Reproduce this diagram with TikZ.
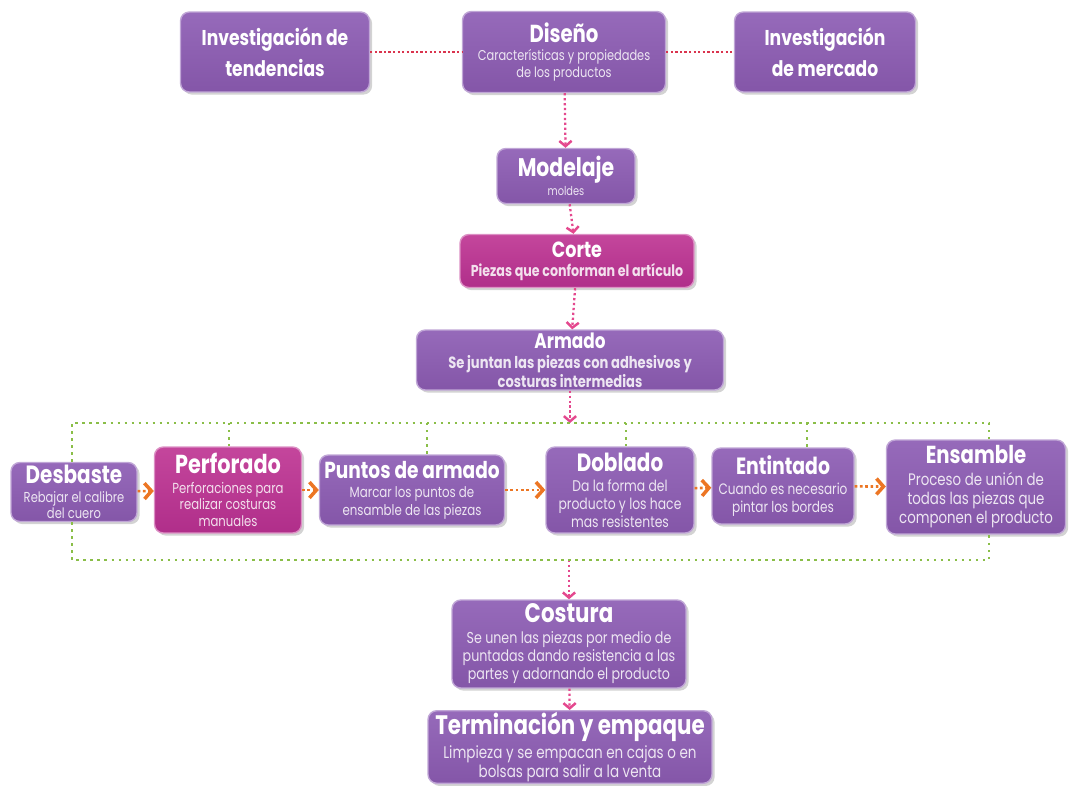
\documentclass[tikz,border=0pt]{standalone}
\usepackage{fontspec}
\setmainfont{Poppins}[FakeStretch=0.8]
\usetikzlibrary{arrows.meta,shadows}
\definecolor{lila}{RGB}{132,86,168}
\definecolor{lilaclaro}{RGB}{150,106,186}
\definecolor{fucsia}{RGB}{176,46,138}
\definecolor{fucsiaclaro}{RGB}{196,70,156}
\definecolor{rosa}{RGB}{228,72,142}
\definecolor{rojo}{RGB}{218,52,78}
\definecolor{naranja}{RGB}{236,118,36}
\definecolor{verde}{RGB}{138,190,72}
\newcommand\tit[2]{{\color{white}\bfseries\fontsize{#1}{#1}\selectfont #2}}
\tikzset{
  caja/.style={rounded corners=5pt, draw=lilaclaro!60!white, line width=0.8pt, top color=lilaclaro, bottom color=lila,
    text=lila!15!white, align=center, inner sep=1pt,
    drop shadow={opacity=0.35, shadow xshift=1.5pt, shadow yshift=-1.5pt}},
  cajaf/.style={caja, draw=fucsiaclaro!60!white, top color=fucsiaclaro, bottom color=fucsia, text=fucsia!15!white},
  letra/.style 2 args={font=\fontsize{#1}{#2}\selectfont},
  grande/.style={text=white, font=\bfseries\fontsize{12.2}{18}\selectfont},
  flecha/.style={rosa, line width=1.3pt, dash pattern=on 1.3pt off 1.5pt,
    -{Straight Barb[length=3pt, width=7pt, line width=1.4pt]}},
  flechan/.style={naranja, line width=1.5pt, dash pattern=on 1.5pt off 1.5pt,
    -{Straight Barb[length=4pt, width=9pt, line width=2pt]}},
  punteo/.style={rojo, line width=1.3pt, dash pattern=on 1.3pt off 1.3pt},
  verdes/.style={verde, line width=1.4pt, dash pattern=on 1.4pt off 2.6pt}
}
\begin{document}
\begin{tikzpicture}[x=0.02cm, y=-0.02cm]
	\useasboundingbox (0,0) rectangle (1071,787);
	% fila superior
	\node[caja, grande, minimum width=3.78cm, minimum height=1.6cm] (tendencias) at (275,52) {Investigación de\\tendencias};
	\node[caja, letra={8.1}{9.3}, minimum width=4.06cm, minimum height=1.62cm] (diseno) at (564,52) {\tit{14}{Diseño}\\[1pt]Características y propiedades\\de los productos};
	\node[caja, grande, minimum width=3.62cm, minimum height=1.6cm] (mercado) at (825,52) {Investigación\\de mercado};
	\node[caja, letra={7}{8}, minimum width=2.76cm, minimum height=1.1cm] (modelaje) at (566,176) {\tit{14.5}{Modelaje}\\[1pt]moldes};
	\node[cajaf, letra={9}{10}, minimum width=4.68cm, minimum height=1.06cm] (corte) at (577,261) {\tit{12.5}{Corte}\\[1pt]\bfseries Piezas que conforman el artículo};
	\node[caja, letra={9.3}{10.7}, minimum width=6.14cm, minimum height=1.2cm] (armado) at (570,360) {\tit{12}{Armado}\\[1pt]\bfseries Se juntan las piezas con adhesivos y\\\bfseries costuras intermedias};
	% fila de procesos
	\node[caja, letra={8.2}{9.4}, minimum width=2.52cm, minimum height=1.18cm] (desbaste) at (74,492) {\tit{14.2}{Desbaste}\\[1pt]Rebajar el calibre\\del cuero};
	\node[cajaf, letra={8.3}{9.5}, minimum width=2.94cm, minimum height=1.72cm] (perforado) at (228,490) {\tit{14.8}{Perforado}\\[1.5pt]Perforaciones para\\realizar costuras\\manuales};
	\node[caja, letra={8.4}{9.7}, minimum width=3.7cm, minimum height=1.4cm] (puntos) at (412,490) {\tit{13.2}{Puntos de armado}\\[1.5pt]Marcar los puntos de\\ensamble de las piezas};
	\node[caja, letra={8.8}{10.1}, minimum width=2.96cm, minimum height=1.72cm] (doblado) at (620,490) {\tit{14.2}{Doblado}\\[1.5pt]Da la forma del\\producto y los hace\\mas resistentes};
	\node[caja, letra={8.6}{9.9}, minimum width=2.84cm, minimum height=1.52cm] (entintado) at (783,486) {\tit{13.4}{Entintado}\\[1.5pt]Cuando es necesario\\pintar los bordes};
	\node[caja, letra={9.5}{10.9}, minimum width=3.58cm, minimum height=1.88cm] (ensamble) at (976,487) {\tit{14}{Ensamble}\\[1.5pt]Proceso de unión de\\todas las piezas que\\componen el producto};
	% final
	\node[caja, letra={9}{10.3}, minimum width=4.68cm, minimum height=1.76cm] (costura) at (569,644) {\tit{15.2}{Costura}\\[1.5pt]Se unen las piezas por medio de\\puntadas dando resistencia a las\\partes y adornando el producto};
	\node[caja, letra={9.6}{10.8}, minimum width=5.68cm, minimum height=1.4cm] (terminacion) at (570,747) {\tit{15.2}{Terminación y empaque}\\[1pt]Limpieza y se empacan en cajas o en\\bolsas para salir a la venta};

	\coordinate (arribaI) at (72,423);
	\coordinate (arribaD) at (989,423);
	\coordinate (abajoI) at (72,560);
	\coordinate (abajoD) at (989,560);

	\draw[punteo] (tendencias) -- (diseno);
	\draw[punteo] (diseno) -- (mercado);
	\draw[flecha] (diseno) -- (modelaje);
	\draw[flecha] (modelaje) -- (corte);
	\draw[flecha] (corte) -- (armado);
	\draw[flecha] (armado) -- (armado.south |- arribaI);
	\draw[flecha] (costura.north |- abajoI) -- (costura);
	\draw[flecha] (costura) -- (terminacion);

	\draw[verdes] (arribaI |- desbaste.north) -- (arribaI) -- (arribaD) -- (arribaD |- ensamble.north);
	\draw[verdes] (abajoI |- desbaste.south) -- (abajoI) -- (abajoD) -- (abajoD |- ensamble.south);
	\foreach \n/\x in {perforado/229, puntos/427, doblado/626, entintado/807}
		\draw[verdes] (\x,423) -- (\x,423 |- \n.north);

	\draw[flechan] (desbaste) -- (perforado);
	\draw[flechan] (perforado) -- (puntos);
	\draw[flechan] (puntos) -- (doblado);
	\draw[flechan] (doblado) -- (entintado);
	\draw[flechan] (entintado) -- (ensamble);
\end{tikzpicture}
\end{document}
